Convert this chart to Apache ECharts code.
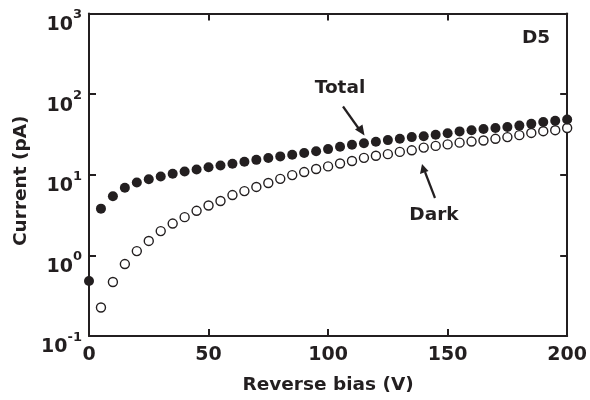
<!DOCTYPE html>
<html><head><meta charset="utf-8">
<script src="https://cdn.jsdelivr.net/npm/echarts@6/dist/echarts.min.js"></script>
<style>html,body{margin:0;padding:0;background:#fff}#c{width:590px;height:400px}</style>
</head><body><div id="c"></div>
<script>
var biasV = [0,5,10,15,20,25,30,35,40,45,50,55,60,65,70,75,80,85,90,95,100,105,110,115,120,125,130,135,140,145,150,155,160,165,170,175,180,185,190,195,200];
var totalPA = [0.48,3.8,5.4,6.9,8.0,8.8,9.5,10.3,11.0,11.6,12.4,13.0,13.7,14.5,15.3,16.1,16.9,17.7,18.6,19.6,20.8,22.3,23.6,24.6,25.7,26.9,28.0,29.3,30.1,31.4,32.7,34.5,35.7,37.0,38.0,39.2,40.7,42.8,45.0,46.7,48.5];
var darkV = [5,10,15,20,25,30,35,40,45,50,55,60,65,70,75,80,85,90,95,100,105,110,115,120,125,130,135,140,145,150,155,160,165,170,175,180,185,190,195,200];
var darkPA = [0.226,0.468,0.78,1.13,1.51,2.0,2.48,2.98,3.57,4.15,4.73,5.6,6.27,7.06,7.9,8.9,9.9,10.8,11.8,12.7,13.8,14.8,16.2,17.2,18.0,19.2,20.1,21.7,22.8,23.8,25.0,25.8,26.6,27.9,29.3,31.0,33.0,34.7,35.7,38.0];
var xTicks = [0,50,100,150,200];
var yExps = [-1,0,1,2,3];

var FONT = '"DejaVu Sans"';
var INK = '#231f20';
var chart = echarts.init(document.getElementById('c'), null, {renderer:'canvas'});
function pairs(xs, ys){ return xs.map(function(x,i){return [x, ys[i]];}); }
var axisLineStyle = {color:INK, width:2};
var tickStyle = {show:true, inside:true, length:7, lineStyle:{color:INK, width:2}};
var opt = {
  animation:false,
  backgroundColor:'#fff',
  grid:{left:89, right:22.5, top:13.5, bottom:58.3, containLabel:false},
  xAxis:[{
    type:'value', min:0, max:200, interval:50, position:'bottom',
    axisLine:{show:true, onZero:false, lineStyle:axisLineStyle},
    axisTick:tickStyle,
    splitLine:{show:false},
    axisLabel:{color:INK, fontFamily:FONT, fontWeight:'bold', fontSize:19, margin:10,
      formatter:function(v){ return xTicks.indexOf(v)>=0 ? String(v) : ''; }},
    name:'Reverse bias (V)', nameLocation:'middle', nameGap:40,
    nameTextStyle:{color:INK, fontFamily:FONT, fontWeight:'bold', fontSize:18.5}
  },{
    type:'value', min:0, max:200, interval:50, position:'top',
    axisLine:{show:true, onZero:false, lineStyle:axisLineStyle},
    axisTick:tickStyle,
    axisLabel:{show:false}, splitLine:{show:false}
  }],
  yAxis:[{
    type:'log', logBase:10, min:0.1, max:1000, position:'left',
    axisLine:{show:true, onZero:false, lineStyle:axisLineStyle},
    axisTick:tickStyle,
    minorTick:{show:false}, splitLine:{show:false},
    axisLabel:{margin:7, color:INK, padding:[16,0,0,0],
      formatter:function(v){ var e=Math.round(Math.log10(v)); return yExps.indexOf(e)>=0 ? '{b|10}{s|'+e+'}' : ''; },
      rich:{
        b:{fontFamily:FONT, fontWeight:'bold', fontSize:19, color:INK, lineHeight:26, verticalAlign:'bottom'},
        s:{fontFamily:FONT, fontWeight:'bold', fontSize:13, color:INK, verticalAlign:'top'}
      }},
    name:'Current (pA)', nameLocation:'middle', nameGap:52, nameRotate:90,
    nameTextStyle:{color:INK, fontFamily:FONT, fontWeight:'bold', fontSize:18.5, padding:[0,12,0,0]}
  },{
    type:'log', logBase:10, min:0.1, max:1000, position:'right',
    axisLine:{show:true, onZero:false, lineStyle:axisLineStyle},
    axisTick:tickStyle,
    axisLabel:{show:false}, splitLine:{show:false}, minorTick:{show:false}
  }],
  series:[{
    name:'Dark', type:'scatter', xAxisIndex:0, yAxisIndex:0,
    data:pairs(darkV, darkPA), symbol:'circle', symbolSize:9,
    itemStyle:{color:'#fff', borderColor:INK, borderWidth:1.4, opacity:1}
  },{
    name:'Total', type:'scatter', xAxisIndex:0, yAxisIndex:0,
    data:pairs(biasV, totalPA), symbol:'circle', symbolSize:10,
    itemStyle:{color:INK, opacity:1}
  }],
  graphic:[
    {type:'text', x:340, y:88, style:{text:'Total', fontFamily:FONT, fontWeight:'bold', fontSize:18.5, fill:INK, align:'center', verticalAlign:'middle'}},
    {type:'text', x:434, y:215, style:{text:'Dark', fontFamily:FONT, fontWeight:'bold', fontSize:18.5, fill:INK, align:'center', verticalAlign:'middle'}},
    {type:'text', x:536, y:38, style:{text:'D5', fontFamily:FONT, fontWeight:'bold', fontSize:18.5, fill:INK, align:'center', verticalAlign:'middle'}},
    {type:'line', shape:{x1:343,y1:106.5,x2:359,y2:129}, style:{stroke:INK, lineWidth:2.2}},
    {type:'polygon', shape:{points:[[364.5,135.5],[355,129.5],[362.5,124.5]]}, style:{fill:INK}},
    {type:'line', shape:{x1:435,y1:198,x2:425,y2:172}, style:{stroke:INK, lineWidth:2.2}},
    {type:'polygon', shape:{points:[[422,164],[420,174],[428.5,171]]}, style:{fill:INK}}
  ]
};
chart.setOption(opt);
</script></body></html>
